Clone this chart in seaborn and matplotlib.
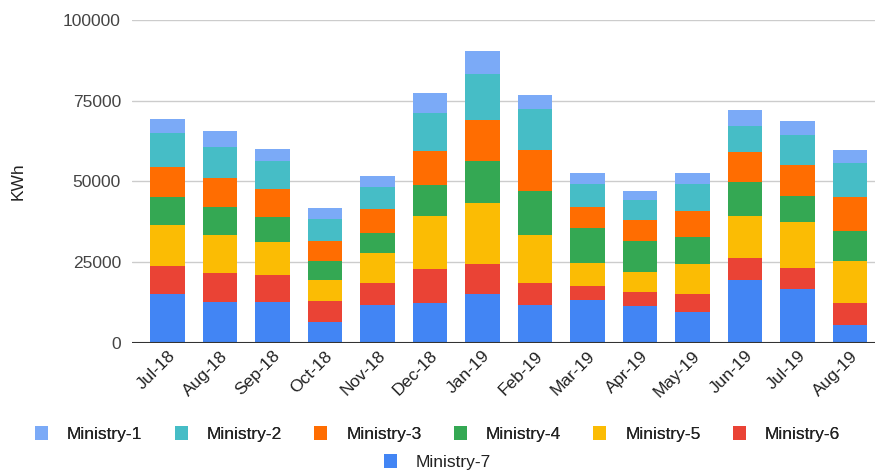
import matplotlib
matplotlib.use("Agg")
import matplotlib.pyplot as plt
import seaborn as sns
import numpy as np
from matplotlib.patches import Patch

sns.set_theme(style="white")
plt.rcParams['font.family'] = ['Liberation Sans', 'DejaVu Sans']

months = ["Jul-18", "Aug-18", "Sep-18", "Oct-18", "Nov-18", "Dec-18", "Jan-19",
          "Feb-19", "Mar-19", "Apr-19", "May-19", "Jun-19", "Jul-19", "Aug-19"]

# values, bottom segment first (Ministry-7)
ministry_7 = [15200, 12700, 12700, 6400, 11800, 12200, 15200, 11800, 13200, 11300, 9400, 19500, 16500, 5400]
ministry_6 = [8700, 8800, 8300, 6400, 6800, 10700, 9200, 6700, 4300, 4300, 5800, 6700, 6800, 6800]
ministry_5 = [12500, 12000, 10100, 6700, 9100, 16300, 18800, 15000, 7300, 6300, 9200, 13000, 14000, 13100]
ministry_4 = [8700, 8700, 7700, 5800, 6300, 9700, 13000, 13500, 10600, 9700, 8200, 10600, 8300, 9200]
ministry_3 = [9300, 8800, 8700, 6300, 7300, 10600, 12700, 12600, 6700, 6300, 8300, 9300, 9600, 10600]
ministry_2 = [10500, 9700, 8700, 6700, 6800, 11700, 14500, 12700, 7200, 6300, 8300, 8200, 9200, 10700]
ministry_1 = [4400, 4750, 3900, 3400, 3700, 6200, 7100, 4600, 3300, 2800, 3300, 4800, 4300, 3800]

series = ["Ministry-7", "Ministry-6", "Ministry-5", "Ministry-4", "Ministry-3", "Ministry-2", "Ministry-1"]
values = [ministry_7, ministry_6, ministry_5, ministry_4, ministry_3, ministry_2, ministry_1]
colors = {"Ministry-1": "#7baaf7", "Ministry-2": "#46bdc6", "Ministry-3": "#ff6d01",
          "Ministry-4": "#34a853", "Ministry-5": "#fbbc04", "Ministry-6": "#ea4335",
          "Ministry-7": "#4285f4"}

fs = 12.5

fig = plt.figure(figsize=(8.75, 4.73), dpi=100)
ax = fig.add_axes([132 / 875, 1 - 342.7 / 473, (875 - 132) / 875, (342.7 - 20) / 473])

bottom = np.zeros(len(months))
for name, vals in zip(series, values):
    sns.barplot(x=months, y=vals, bottom=bottom, color=colors[name], width=0.65,
                errorbar=None, saturation=1, ax=ax, linewidth=0, zorder=3)
    bottom = bottom + np.array(vals)

ax.set_xlim(-0.676, 13.476)
ax.set_ylim(0, 100000)
ax.set_yticks([0, 25000, 50000, 75000, 100000])
ax.set_yticklabels(["0", "25000", "50000", "75000", "100000"])
ax.yaxis.grid(True, color="#cccccc", linewidth=1, zorder=0)
ax.axhline(0, color="#333333", linewidth=1.5, zorder=4)
for s in ax.spines.values():
    s.set_visible(False)
ax.tick_params(axis="y", length=0, pad=8, labelsize=fs, labelcolor="#444444")
ax.tick_params(axis="x", length=0, pad=4, labelsize=fs, labelcolor="#222222")
plt.setp(ax.get_xticklabels(), rotation=45, ha="right", rotation_mode="anchor")
ax.set_xlabel("")
ax.set_ylabel("KWh", fontsize=fs, color="#222222")
ax.yaxis.set_label_coords(-0.1427, 0.5)

legend_order = ["Ministry-1", "Ministry-2", "Ministry-3", "Ministry-4", "Ministry-5", "Ministry-6"]
h1 = [Patch(facecolor=colors[n], edgecolor="none") for n in legend_order]
leg1 = fig.legend(h1, legend_order, loc="center", bbox_to_anchor=(0.5, 1 - 434 / 473),
                  ncol=6, frameon=False, fontsize=fs, handlelength=0.75, handleheight=0.9,
                  handletextpad=1.1, columnspacing=1.85, labelcolor="#222222")
fig.add_artist(leg1)
h2 = [Patch(facecolor=colors["Ministry-7"], edgecolor="none")]
fig.legend(h2, ["Ministry-7"], loc="center", bbox_to_anchor=(0.5, 1 - 462 / 473),
           ncol=1, frameon=False, fontsize=fs, handlelength=0.75, handleheight=0.9,
           handletextpad=1.1, labelcolor="#222222")

fig.savefig("out.png", dpi=100)
